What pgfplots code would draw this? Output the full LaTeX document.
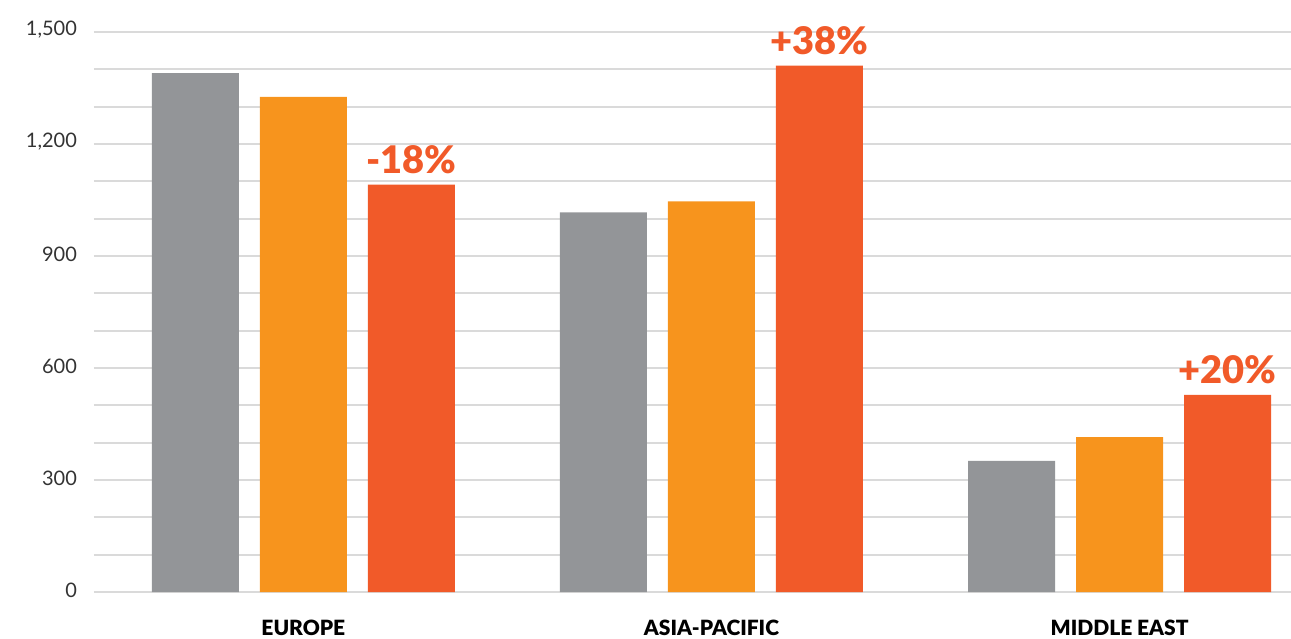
\documentclass[border=0pt]{standalone}
\usepackage{pgfplots}
\pgfplotsset{compat=1.18}
\usepackage{fontspec}
\setmainfont{Lato}
\newfontfamily\heavy{Lato Black}
\definecolor{cgray}{HTML}{939598}
\definecolor{corange}{HTML}{F7941D}
\definecolor{cred}{HTML}{F15A29}
\definecolor{cgrid}{HTML}{DADADA}
\begin{document}
\begin{tikzpicture}
\useasboundingbox (-47pt,-23pt) rectangle (598.5pt,296pt);
\begin{axis}[
  at={(0,0)}, anchor=south west,
  scale only axis, width=598.5pt, height=280pt,
  xmin=-0.513, xmax=2.42, ymin=0, ymax=1500,
  axis line style={draw=none},
  major tick length=0, minor tick length=0,
  ytick={0,300,...,1500},
  minor ytick={100,200,400,500,700,800,1000,1100,1300,1400},
  ymajorgrids, yminorgrids,
  major grid style={cgrid, line width=0.9pt},
  minor grid style={cgrid, line width=0.9pt},
  xtick={0,1,2},
  xticklabels={EUROPE,ASIA-PACIFIC,MIDDLE EAST},
  xticklabel style={font=\heavy\fontsize{10.5}{12}\selectfont, text=black, yshift=-10.5pt},
  yticklabel style={font=\fontsize{10}{12}\selectfont, text=black!80, xshift=-5pt, yshift=1pt},
  /pgf/number format/assume math mode=true,
  /pgf/number format/1000 sep={,},
  ybar, bar width=43.5pt,
  clip=false,
]
\addplot[fill=cgray, draw=none, bar shift=-54pt] coordinates {(0,1390) (1,1017) (2,351)};
\addplot[fill=corange, draw=none, bar shift=0pt] coordinates {(0,1326) (1,1046) (2,415)};
\addplot[fill=cred, draw=none, bar shift=54pt,
  point meta=explicit symbolic, nodes near coords,
  every node near coord/.append style={font=\heavy\fontsize{19}{20}\selectfont, text=cred, yshift=2pt}]
  coordinates {(0,1091) [-18\%] (1,1410) [+38\%] (2,528) [+20\%]};
\end{axis}
\end{tikzpicture}
\end{document}
